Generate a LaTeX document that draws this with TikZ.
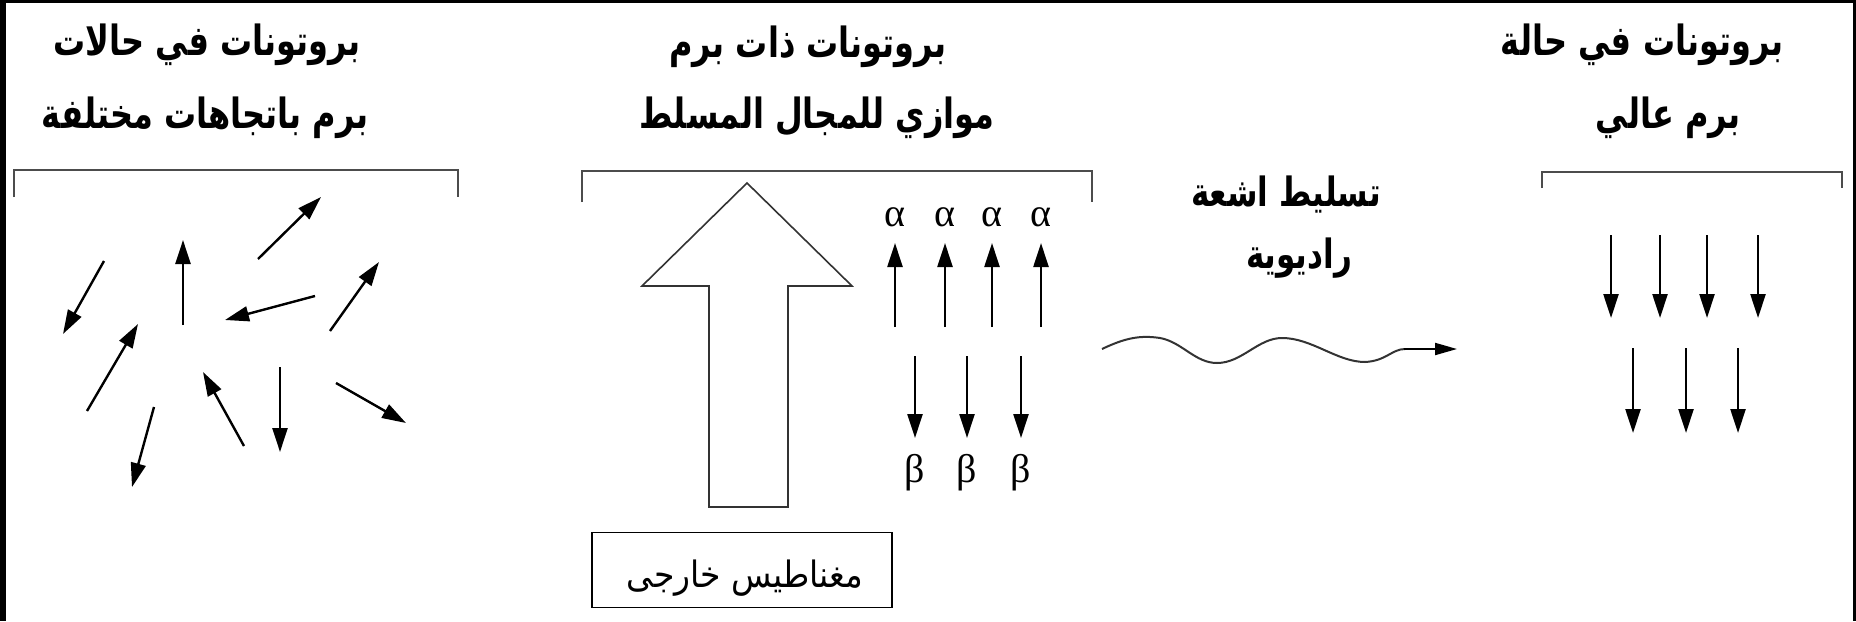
\documentclass[tikz,border=0pt]{standalone}
\usepackage{fontspec}
\setmainfont{Liberation Serif}
\newfontfamily\arabicfont[Script=Arabic]{DejaVu Sans}
\TeXXeTstate=1
\usetikzlibrary{arrows.meta}
\newcommand{\tallar}[1]{\scalebox{1}[1.3]{\beginR #1\endR}}
\newcommand{\boxar}[1]{\scalebox{1}[1.1]{\beginR #1\endR}}
\begin{document}
\begin{tikzpicture}[x=0.5pt,y=-0.5pt,
  title/.style={font=\arabicfont\bfseries\fontsize{16}{19}\selectfont, inner sep=0pt, anchor=center},
  rftext/.style={font=\arabicfont\bfseries\fontsize{15.5}{18}\selectfont, inner sep=0pt, anchor=center},
  spin/.style={line width=1.2pt, -{Triangle[length=12pt,width=7.5pt]}},
  bracket/.style={draw=black!70, line width=1pt},
  greek/.style={font=\fontsize{20}{24}\selectfont, inner sep=0pt},
  bigarrow/.style={draw=black!80, line width=0.8pt},
  magbox/.style={draw=black, line width=0.8pt, minimum width=150pt, minimum height=37.5pt, inner sep=0pt}
]
\useasboundingbox (0,0) rectangle (1856,621);
\fill[white] (0,0) rectangle (1856,621);
% black frame strips
\fill[black] (0,0) rectangle (6,621);
\fill[black] (0,0) rectangle (1856,3);
\fill[black] (1853,0) rectangle (1856,621);

% ---------- titles ----------
\node[title] (t1a) at (207,45) {\tallar{بروتونات في حالات}};
\node[title] (t1b) at (205,118) {\tallar{برم باتجاهات مختلفة}};
\node[title] (t2a) at (808,47) {\tallar{بروتونات ذات برم}};
\node[title] (t2b) at (817,118) {\tallar{موازي للمجال المسلط}};
\node[title] (t3a) at (1642,45) {\tallar{بروتونات في حالة}};
\node[title] (t3b) at (1668,118) {\tallar{برم عالي}};

% ---------- brackets ----------
\draw[bracket] (14,197) -- (14,170) -- (458,170) -- (458,197);
\draw[bracket] (582,202) -- (582,171) -- (1092,171) -- (1092,202);
\draw[bracket] (1542,188) -- (1542,172) -- (1842,172) -- (1842,188);

% ---------- random spins ----------
\draw[spin] (104,261) -- (63,334);
\draw[spin] (183,325) -- (183,240);
\draw[spin] (258,259) -- (321,197);
\draw[spin] (315,296) -- (225,320);
\draw[spin] (330,331) -- (379,262);
\draw[spin] (87,411) -- (138,324);
\draw[spin] (154,407) -- (132,487);
\draw[spin] (244,446) -- (203,372);
\draw[spin] (280,367) -- (280,452);
\draw[spin] (336,383) -- (406,423);

% ---------- external field arrow ----------
\draw[bigarrow] (747,183) -- (852,286) -- (788,286) -- (788,507) -- (709,507) -- (709,286) -- (642,286) -- cycle;
\node[magbox] (mag) at (742,570) {};
\node[font=\arabicfont\fontsize{16.5}{20}\selectfont, inner sep=0pt] (magt) at (745,578) {\boxar{مغناطيس خارجى}};

% ---------- alpha / beta ----------
\foreach \x/\n in {895/1,945/2,992/3,1041/4}{
  \node[greek] (a\n) at (\x,217) {α};
  \draw[spin] (\x,327) -- (\x,243);
}
\foreach \x/\n in {915/1,967/2,1021/3}{
  \draw[spin] (\x,356) -- (\x,438);
  \node[greek] (b\n) at (\x,473) {β};
}

% ---------- RF ----------
\node[rftext] (rf1) at (1286,195) {\tallar{تسليط اشعة}};
\node[rftext] (rf2) at (1299,258) {\tallar{راديوية}};
\coordinate (w0) at (1102,349);
\coordinate (w1) at (1457,349);
\draw[black!80, line width=1pt] (w0) .. controls (1125,338) and (1140,335) .. (1160,338)
  .. controls (1182,342) and (1195,363) .. (1217,363)
  .. controls (1242,363) and (1258,338) .. (1282,338)
  .. controls (1312,338) and (1337,362) .. (1365,362)
  .. controls (1386,361) and (1392,349) .. (1405,349);
\draw[line width=1pt, -{Triangle[length=11pt,width=6pt]}] (1404,349) -- (w1);

% ---------- high spin ----------
\foreach \x in {1611,1660,1707,1758}{ \draw[spin] (\x,235) -- (\x,318); }
\foreach \x in {1633,1686,1738}{ \draw[spin] (\x,348) -- (\x,433); }
\end{tikzpicture}
\end{document}
